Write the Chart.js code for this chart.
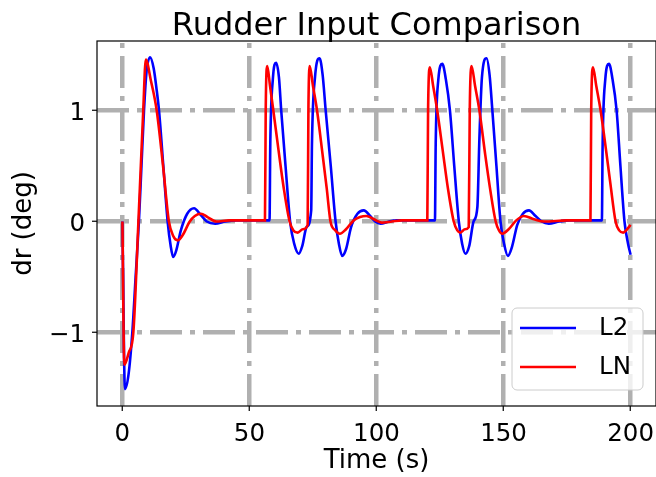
<!DOCTYPE html>
<html lang="en">
<head>
<meta charset="UTF-8" />
<title>Rudder Input Comparison</title>
<script src="https://cdn.jsdelivr.net/npm/chart.js"></script>
<style>
  body { margin: 0; background: #fff; }
  canvas { display: block; }
</style>
</head>
<body>
<canvas id="rudderChart" width="656" height="477"></canvas>
<script>
  // L2 controller: time (s) and rudder command dr (deg)
  const l2Time = [0, 1.0, 2.4, 3.9, 5.2, 6.5, 7.5, 8.5, 9.5, 10.9, 12.3, 13.4, 14.4, 16.1, 17.8, 19.0, 20.0, 21.2, 23.0, 25.5, 28.2, 30.8, 33.2, 36.5, 40.5, 45, 57.9,
    58.2, 59.2, 60.5, 61.6, 62.5, 64.2, 66.0, 67.6, 69.4, 70.8, 72.5, 74.3,
    74.6, 75.8, 77.6, 78.8, 80.0, 82.0, 83.9, 85.2, 86.5, 88.0, 90.0, 92.5, 95.0, 97.5, 99.5, 101.6, 105, 108, 115, 123.0,
    123.3, 124.3, 125.9, 127.3, 128.9, 130.6, 132.4, 133.7, 135.0, 136.5, 138.2, 139.7,
    140.5, 141.5, 143.3, 144.5, 145.6, 147.2, 148.8, 150.2, 151.7, 153.3, 155.4, 157.6, 160.0, 162.6, 165.0, 167.8, 172, 176, 188.7,
    189.0, 190.0, 191.5, 192.9, 194.5, 196.0, 197.6, 199.0, 200];
  const l2Dr = [0, -1.51, -1.38, -1.0, -0.5, 0.0, 0.5, 1.0, 1.35, 1.48, 1.38, 1.2, 1.0, 0.5, 0.0, -0.22, -0.32, -0.26, -0.08, 0.07, 0.12, 0.06, 0.0, -0.02, 0.0, 0.01, 0.01,
    0.7, 1.28, 1.43, 1.3, 1.0, 0.5, 0.0, -0.2, -0.29, -0.22, -0.05, 0.1,
    0.7, 1.3, 1.47, 1.32, 1.0, 0.5, 0.0, -0.2, -0.31, -0.25, -0.05, 0.07, 0.10, 0.05, 0.0, -0.02, 0.0, 0.01, 0.01, 0.01,
    0.7, 1.27, 1.42, 1.28, 1.0, 0.5, 0.0, -0.2, -0.29, -0.22, 0.0, 0.13,
    0.75, 1.3, 1.47, 1.32, 1.0, 0.5, 0.0, -0.2, -0.31, -0.23, -0.03, 0.07, 0.10, 0.05, 0.0, -0.02, 0.0, 0.01, 0.01,
    0.7, 1.27, 1.42, 1.28, 1.0, 0.5, 0.0, -0.2, -0.30];

  // LN controller: time (s) and rudder command dr (deg)
  const lnTime = [0, 0.75, 2.5, 4.3, 6.3, 8.2, 9.2, 11.2, 13.5, 16.0, 18.3, 20.0, 21.8, 23.8, 26.5, 28.5, 30.9, 33.5, 37, 42, 50, 56.1,
    56.4, 57.0, 58.1, 59.4, 61.4, 63.5, 65.8, 67.3, 69.0, 71.0, 72.9,
    73.2, 73.7, 75.0, 76.6, 78.8, 80.4, 81.9, 83.8, 85.6, 88.0, 91.0, 93.5, 96.0, 99.0, 102.0, 106, 110, 120.0,
    120.3, 121.0, 122.3, 123.9, 126.0, 128.1, 130.4, 131.8, 133.0, 134.8, 136.3,
    136.7, 137.4, 138.8, 140.5, 142.8, 144.8, 146.9, 148.2, 149.5, 152.0, 155.0, 158.0, 162.0, 166, 175, 184.2,
    184.5, 185.2, 186.5, 188.2, 190.3, 192.0, 194.1, 195.5, 197.1, 198.6, 200];
  const lnDr = [0, -1.29, -1.18, -1.0, 0.0, 1.0, 1.46, 1.27, 1.0, 0.5, 0.0, -0.13, -0.17, -0.12, 0.0, 0.05, 0.07, 0.04, 0.0, 0.01, 0.01, 0.01,
    1.0, 1.40, 1.22, 1.0, 0.65, 0.3, 0.0, -0.08, -0.10, -0.07, -0.03,
    1.0, 1.40, 1.22, 1.0, 0.6, 0.3, 0.0, -0.08, -0.11, -0.07, 0.01, 0.04, 0.05, 0.02, -0.01, 0.0, 0.01, 0.01,
    1.0, 1.39, 1.22, 1.0, 0.65, 0.3, 0.0, -0.08, -0.10, -0.07, -0.05,
    1.0, 1.40, 1.22, 1.0, 0.6, 0.28, 0.0, -0.08, -0.11, -0.07, 0.01, 0.05, 0.02, 0.0, 0.01, 0.01,
    1.0, 1.39, 1.22, 1.0, 0.65, 0.35, 0.0, -0.08, -0.10, -0.07, -0.03];

  const xTicks = [0, 50, 100, 150, 200];
  const yTicks = [-1, 0, 1];
  const seriesNames = ['L2', 'LN'];
  const seriesColors = ['#0000ff', '#ff0000'];

  const toPoints = (t, v) => t.map((x, i) => ({ x: x, y: v[i] }));

  Chart.defaults.font.family = "'DejaVu Sans', sans-serif";
  Chart.defaults.color = '#000';

  // axes frame on all four sides plus a matplotlib-style legend in the lower right
  const frameAndLegend = {
    id: 'frameAndLegend',
    afterDatasetsDraw(chart) {
      const { ctx, chartArea: a } = chart;
      ctx.save();
      ctx.strokeStyle = '#000';
      ctx.lineWidth = 1.2;
      ctx.strokeRect(a.left, a.top, a.right - a.left, a.bottom - a.top);

      const w = 131, h = 82;
      const x = a.right - 13 - w, y = a.bottom - 16 - h;
      ctx.beginPath();
      ctx.roundRect(x, y, w, h, 5);
      ctx.fillStyle = 'rgba(255,255,255,0.8)';
      ctx.fill();
      ctx.strokeStyle = '#cccccc';
      ctx.lineWidth = 1;
      ctx.stroke();

      ctx.font = "24.5px 'DejaVu Sans'";
      ctx.textBaseline = 'middle';
      ctx.fillStyle = '#000';
      seriesNames.forEach((name, i) => {
        const ly = y + 20 + i * 39;
        ctx.beginPath();
        ctx.moveTo(x + 8, ly);
        ctx.lineTo(x + 64, ly);
        ctx.strokeStyle = seriesColors[i];
        ctx.lineWidth = 2.6;
        ctx.stroke();
        ctx.fillText(name, x + 87, ly + 1);
      });
      ctx.restore();
    }
  };

  const gridCommon = {
    color: '#b0b0b0',
    lineWidth: 4.5,
    tickColor: '#000',
    tickWidth: 1.2,
    tickLength: 5,
    tickBorderDash: []
  };

  new Chart(document.getElementById('rudderChart'), {
    type: 'line',
    data: {
      datasets: [
        {
          label: seriesNames[0],
          data: toPoints(l2Time, l2Dr),
          borderColor: seriesColors[0],
          borderWidth: 2.6,
          pointRadius: 0,
          fill: false,
          cubicInterpolationMode: 'monotone',
          order: 2
        },
        {
          label: seriesNames[1],
          data: toPoints(lnTime, lnDr),
          borderColor: seriesColors[1],
          borderWidth: 2.6,
          pointRadius: 0,
          fill: false,
          cubicInterpolationMode: 'monotone',
          order: 1
        }
      ]
    },
    options: {
      responsive: false,
      animation: false,
      layout: { padding: 0 },
      plugins: {
        legend: { display: false },
        tooltip: { enabled: false },
        title: {
          display: true,
          fullSize: false,
          text: 'Rudder Input Comparison',
          font: { size: 32, weight: 'normal', lineHeight: 0.9 },
          padding: { top: 12, bottom: 0.2 }
        }
      },
      scales: {
        x: {
          type: 'linear',
          min: -10,
          max: 210,
          afterBuildTicks: s => { s.ticks = xTicks.map(v => ({ value: v })); },
          // the plot runs out to the right edge; the last label may overhang
          afterFit: s => { s.height = 71; s.paddingRight = 0; s.paddingLeft = 0; },
          grid: gridCommon,
          border: { display: false, dash: [32, 8, 5, 8], dashOffset: 38 },
          ticks: { font: { size: 24.5 }, padding: 9, maxRotation: 0 },
          title: { display: true, text: 'Time (s)', font: { size: 26 }, padding: { top: 0, bottom: 0 } }
        },
        y: {
          min: -1.662,
          max: 1.626,
          afterBuildTicks: s => { s.ticks = yTicks.map(v => ({ value: v })); },
          afterFit: s => { s.width = 97; },
          grid: gridCommon,
          border: { display: false, dash: [32, 8, 5, 8], dashOffset: 0 },
          ticks: {
            font: { size: 24.5 },
            padding: 7,
            labelOffset: 3,
            callback: v => (v < 0 ? '\u2212' + Math.abs(v) : String(v))
          },
          title: { display: true, text: 'dr (deg)', font: { size: 26 }, padding: { top: 9, bottom: 0 } }
        }
      }
    },
    plugins: [frameAndLegend]
  });
</script>
</body>
</html>
